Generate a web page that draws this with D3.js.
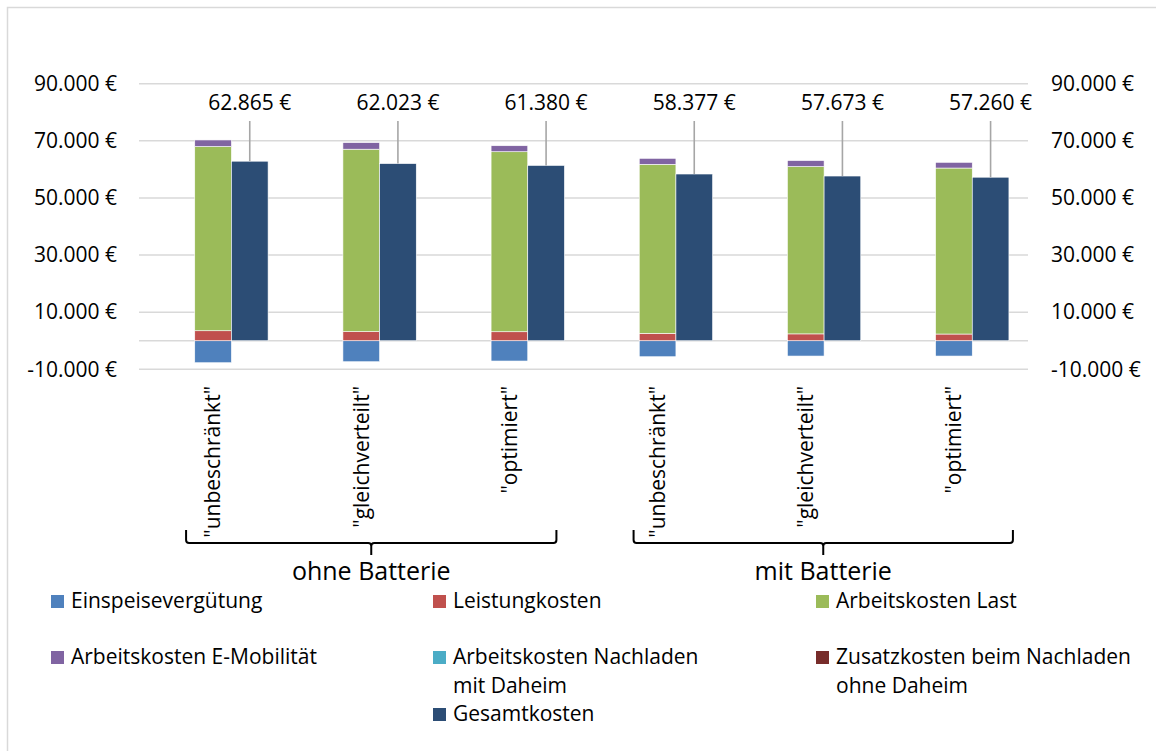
<!DOCTYPE html>
<html>
<head>
<meta charset="utf-8">
<script src="https://cdn.jsdelivr.net/npm/d3@7"></script>
<style>
  body { margin: 0; background: #fff; }
  text { font-family: "Open Sans", sans-serif; fill: #000; }
</style>
</head>
<body>
<div id="chart"></div>
<script>
// categories and groups
const categories = ['"unbeschränkt"', '"gleichverteilt"', '"optimiert"', '"unbeschränkt"', '"gleichverteilt"', '"optimiert"'];
const groupNames = ['ohne Batterie', 'mit Batterie'];
const groupOf = [0, 0, 0, 1, 1, 1];

// stacked series (EUR)
const einspeiseverguetung = [-7700, -7350, -7100, -5600, -5360, -5360];
const leistungkosten = [3500, 3200, 3150, 2600, 2400, 2350];
const arbeitskostenLast = [64500, 63870, 63030, 59170, 58580, 58120];
const arbeitskostenEMob = [2300, 2300, 2100, 2100, 2100, 2000];
const nachladenMitDaheim = [0, 0, 0, 0, 0, 0];
const zusatzOhneDaheim = [0, 0, 0, 0, 0, 0];
// total bar
const gesamtkosten = [62865, 62023, 61380, 58377, 57673, 57260];

const tickValues = [-10000, 10000, 30000, 50000, 70000, 90000];

const seriesNames = ['Einspeisevergütung', 'Leistungkosten', 'Arbeitskosten Last', 'Arbeitskosten E-Mobilität',
    'Arbeitskosten Nachladen mit Daheim', 'Zusatzkosten beim Nachladen ohne Daheim', 'Gesamtkosten'];
const colors = ['#4f81bd', '#c0504d', '#9bbb59', '#8064a2', '#4bacc6', '#772c2a', '#2c4d75'];

window.onload = () => {
    const W = 1156, H = 751;
    const left = 139, right = 1028;

    const svg = d3.select('#chart').append('svg').attr('width', W).attr('height', H);

    // outer frame (right/bottom edges run off the page)
    svg.append('rect')
    .attr('x', 7.5).attr('y', 7.5)
    .attr('width', 1170).attr('height', 770)
    .attr('fill', '#fff')
    .attr('stroke', '#d9d9d9')
    .attr('stroke-width', 1.5);

    const x = d3.scaleBand().domain(d3.range(categories.length)).range([left, right]).padding(0);
    const y = d3.scaleLinear().domain([-10000, 90000]).range([369.3, 83.7]);
    const barW = x.bandwidth() * 0.2475;
    const cx = i => x(i) + x.bandwidth() / 2;

    const de = d3.formatLocale({decimal: ',', thousands: '.', grouping: [3], currency: ['', ' €'], minus: '-'});
    const fmt = de.format('$,.0f');

    // gridlines
    svg.append('g').selectAll('line').data(tickValues.concat([0])).enter().append('line')
    .attr('x1', left).attr('x2', right)
    .attr('y1', d => y(d)).attr('y2', d => y(d))
    .attr('stroke', '#d9d9d9')
    .attr('stroke-width', 1.5);

    // axes on both sides
    const axL = svg.append('g').attr('transform', `translate(${left},0)`)
    .call(d3.axisLeft(y).tickValues(tickValues).tickSize(0).tickPadding(22).tickFormat(fmt));
    const axR = svg.append('g').attr('transform', `translate(${right},0)`)
    .call(d3.axisRight(y).tickValues(tickValues).tickSize(0).tickPadding(23).tickFormat(fmt));
    [axL, axR].forEach(a => {
        a.select('.domain').remove();
        a.selectAll('text').attr('font-size', '21px').attr('font-family', '"Open Sans", sans-serif').attr('fill', '#000');
    });

    // stacked bars
    const rows = categories.map((c, i) => ({
        s0: einspeiseverguetung[i], s1: leistungkosten[i], s2: arbeitskostenLast[i],
        s3: arbeitskostenEMob[i], s4: nachladenMitDaheim[i], s5: zusatzOhneDaheim[i]
    }));
    const stack = d3.stack().keys(['s0', 's1', 's2', 's3', 's4', 's5']).offset(d3.stackOffsetDiverging)(rows);

    svg.append('g').selectAll('g').data(stack).enter().append('g')
    .attr('fill', (d, i) => colors[i])
    .selectAll('rect').data(d => d).enter().append('rect')
    .attr('x', (d, i) => cx(i) - barW / 2)
    .attr('y', d => y(Math.max(d[0], d[1])))
    .attr('width', barW)
    .attr('height', d => Math.abs(y(d[0]) - y(d[1])))
    .attr('stroke', '#fff')
    .attr('stroke-width', 0.6);

    // total bars
    svg.append('g').selectAll('rect').data(gesamtkosten).enter().append('rect')
    .attr('x', (d, i) => cx(i) + barW / 2)
    .attr('y', d => y(d))
    .attr('width', barW)
    .attr('height', d => y(0) - y(d))
    .attr('fill', colors[6])
    .attr('stroke', '#fff')
    .attr('stroke-width', 0.6);

    // data labels with leader lines
    svg.append('g').selectAll('line').data(gesamtkosten).enter().append('line')
    .attr('x1', (d, i) => cx(i) + barW).attr('x2', (d, i) => cx(i) + barW)
    .attr('y1', 121).attr('y2', d => y(d))
    .attr('stroke', '#a6a6a6')
    .attr('stroke-width', 1.6);

    svg.append('g').selectAll('text').data(gesamtkosten).enter().append('text')
    .attr('x', (d, i) => cx(i) + barW)
    .attr('y', 110)
    .attr('text-anchor', 'middle')
    .attr('font-size', '21px')
    .text(d => fmt(d));

    // rotated category labels
    svg.append('g').selectAll('text').data(categories).enter().append('text')
    .attr('transform', (d, i) => `translate(${cx(i)},386) rotate(-90)`)
    .attr('text-anchor', 'end')
    .attr('dy', '0.35em')
    .attr('font-size', '21px')
    .text(d => d);

    // group braces (drawn by hand in the original, so the overhang differs per group)
    const braceLeft = [27, 24], braceRight = [47, 59];
    groupNames.forEach((g, gi) => {
        const idx = d3.range(categories.length).filter(i => groupOf[i] === gi);
        const x0 = cx(idx[0]) - braceLeft[gi], x1 = cx(idx[idx.length - 1]) + braceRight[gi], xm = (x0 + x1) / 2;
        const yT = 530, yB = 543;
        svg.append('path')
        .attr('d', `M${x0},${yT} L${x0},${yB - 3} Q${x0},${yB} ${x0 + 3},${yB} L${xm - 3},${yB} Q${xm},${yB} ${xm},${yB + 3} L${xm},${yB + 12}` +
            ` M${xm},${yB + 3} Q${xm},${yB} ${xm + 3},${yB} L${x1 - 3},${yB} Q${x1},${yB} ${x1},${yB - 3} L${x1},${yT}`)
        .attr('fill', 'none')
        .attr('stroke', '#000')
        .attr('stroke-width', 2);

        svg.append('text')
        .attr('x', xm)
        .attr('y', 580)
        .attr('text-anchor', 'middle')
        .attr('font-size', '25px')
        .text(g);
    });

    // legend (slot 6 stays empty, Gesamtkosten sits in slot 7)
    const legendLines = [['Einspeisevergütung'], ['Leistungkosten'], ['Arbeitskosten Last'], ['Arbeitskosten E-Mobilität'],
        ['Arbeitskosten Nachladen', 'mit Daheim'], ['Zusatzkosten beim Nachladen', 'ohne Daheim'], ['Gesamtkosten']];
    const slots = [0, 1, 2, 3, 4, 5, 7];
    const colX = [51, 433, 816];
    const rowY = [595, 651, 708];

    const items = svg.append('g').selectAll('g').data(seriesNames).enter().append('g')
    .attr('transform', (d, i) => `translate(${colX[slots[i] % 3]},${rowY[Math.floor(slots[i] / 3)]})`);

    items.append('rect')
    .attr('width', 13).attr('height', 13)
    .attr('fill', (d, i) => colors[i]);

    items.append('text')
    .attr('x', 20)
    .attr('font-size', '21px')
    .selectAll('tspan').data((d, i) => legendLines[i]).enter().append('tspan')
    .attr('x', 20)
    .attr('y', (d, j) => 13 + j * 28.5)
    .text(d => d);
};
</script>
</body>
</html>
